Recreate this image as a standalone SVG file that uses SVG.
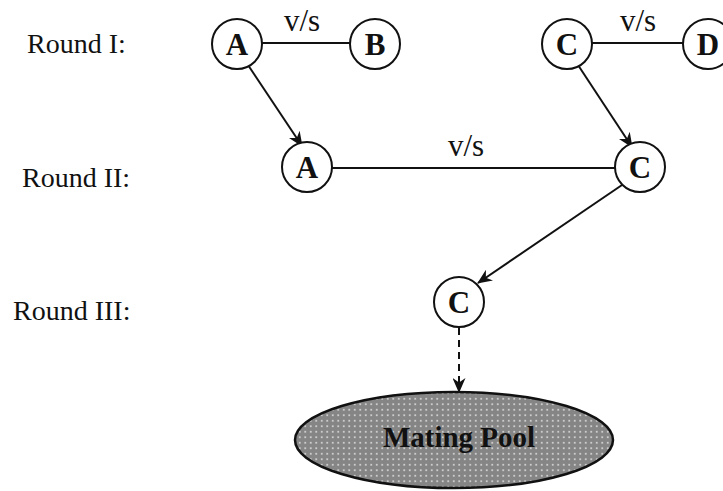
<svg xmlns="http://www.w3.org/2000/svg" width="723" height="491" viewBox="0 0 723 491">
  <style>
    .lbl { font-family: "Liberation Serif", "Times New Roman", serif; font-size: 28px; fill: #111; }
    .vs { font-family: "Liberation Serif", "Times New Roman", serif; font-size: 31px; fill: #111; text-anchor: middle; }
    .node circle { fill: #fff; stroke: #111; stroke-width: 2; }
    .node text { font-family: "Liberation Serif", "Times New Roman", serif; font-size: 31px; font-weight: bold; fill: #111; text-anchor: middle; }
    .edge { stroke: #111; stroke-width: 2; fill: none; }
    .dashed { stroke-dasharray: 7 5; }
    .pool-text { font-family: "Liberation Serif", "Times New Roman", serif; font-size: 29px; font-weight: bold; fill: #111; text-anchor: middle; }
  </style>
  <defs>
    <marker id="arrow" viewBox="0 0 15 13" refX="14" refY="6.5" markerWidth="15" markerHeight="13" markerUnits="userSpaceOnUse" orient="auto">
      <path d="M0,0 L15,6.5 L0,13 L4.5,6.5 Z" fill="#111"/>
    </marker>
    <pattern id="dots" width="5.5" height="5.5" patternUnits="userSpaceOnUse">
      <rect width="5.5" height="5.5" fill="#858585"/>
      <circle cx="2.75" cy="2.75" r="0.9" fill="#e4e4e4"/>
    </pattern>
  </defs>

  <rect width="723" height="491" fill="#fff"/>

  <!-- round labels -->
  <text class="lbl" x="27" y="53">Round I:</text>
  <text class="lbl" x="22" y="187">Round II:</text>
  <text class="lbl" x="13" y="320">Round III:</text>

  <!-- connectors -->
  <g id="connectors">
    <line class="edge" x1="262" y1="43" x2="350" y2="43"/>
    <line class="edge" x1="592" y1="43" x2="683" y2="43"/>
    <line class="edge" x1="332" y1="168" x2="615" y2="168"/>
    <line class="edge" x1="248" y1="65" x2="302" y2="146" marker-end="url(#arrow)"/>
    <line class="edge" x1="578" y1="65" x2="632" y2="147" marker-end="url(#arrow)"/>
    <line class="edge" x1="622" y1="185" x2="478" y2="283" marker-end="url(#arrow)"/>
    <line class="edge dashed" x1="459" y1="328" x2="459" y2="392" marker-end="url(#arrow)"/>
    <text class="vs" x="302" y="31">v/s</text>
    <text class="vs" x="638" y="31">v/s</text>
    <text class="vs" x="466" y="156">v/s</text>
  </g>

  <!-- round I -->
  <g id="node-a1" class="node"><circle cx="237" cy="44" r="25"/><text x="237" y="55">A</text></g>
  <g id="node-b" class="node"><circle cx="375" cy="44" r="25"/><text x="375" y="55">B</text></g>
  <g id="node-c1" class="node"><circle cx="567" cy="44" r="25"/><text x="567" y="55">C</text></g>
  <g id="node-d" class="node"><circle cx="708" cy="44" r="25"/><text x="708" y="55">D</text></g>

  <!-- round II -->
  <g id="node-a2" class="node"><circle cx="307" cy="167" r="25"/><text x="307" y="178">A</text></g>
  <g id="node-c2" class="node"><circle cx="640" cy="167" r="25"/><text x="640" y="178">C</text></g>

  <!-- round III -->
  <g id="node-c3" class="node"><circle cx="459" cy="302" r="25"/><text x="459" y="313">C</text></g>

  <!-- mating pool -->
  <g id="mating-pool">
    <ellipse cx="454" cy="440" rx="159" ry="48" fill="url(#dots)" stroke="#111" stroke-width="2.5"/>
    <text class="pool-text" x="459" y="447">Mating Pool</text>
  </g>
</svg>
